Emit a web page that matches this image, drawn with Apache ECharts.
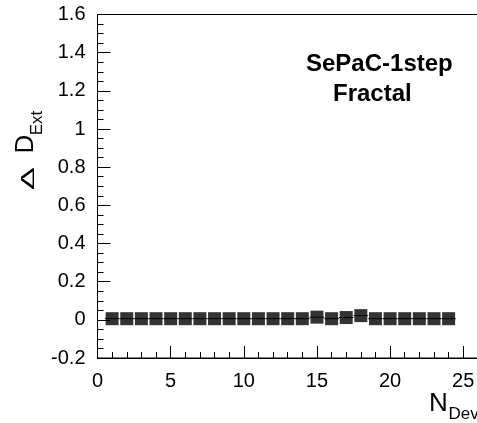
<!DOCTYPE html>
<html>
<head>
<meta charset="utf-8">
<script src="https://cdn.jsdelivr.net/npm/echarts@6/dist/echarts.min.js"></script>
<style>
  html, body { margin: 0; padding: 0; background: #fff; }
  #chart { width: 477px; height: 423px; }
</style>
</head>
<body>
<div id="chart"></div>
<script>
// Number of deviations on x, extended-dimension difference on y
const nDev = [1, 2, 3, 4, 5, 6, 7, 8, 9, 10, 11, 12, 13, 14, 15, 16, 17, 18, 19, 20, 21, 22, 23, 24];
const deltaD = [0.006, 0.006, 0.006, 0.006, 0.006, 0.006, 0.006, 0.006, 0.006, 0.006, 0.006, 0.006,
                0.006, 0.006, 0.014, 0.006, 0.012, 0.022, 0.006, 0.006, 0.006, 0.006, 0.006, 0.006];
const xHalfWidth = [0.5, 0.5, 0.5, 0.5, 0.5, 0.5, 0.5, 0.5, 0.5, 0.5, 0.5, 0.5,
                    0.5, 0.5, 0.5, 0.5, 0.5, 0.5, 0.5, 0.5, 0.5, 0.5, 0.5, 0.5];
const yTicks = [-0.2, 0, 0.2, 0.4, 0.6, 0.8, 1, 1.2, 1.4, 1.6];
const xTicks = [0, 5, 10, 15, 20, 25];

const FONT = '"Liberation Sans", Arial, Helvetica, sans-serif';

const points = nDev.map((x, i) => [x, deltaD[i]]);
const bars = nDev.map((x, i) => [x, deltaD[i], xHalfWidth[i]]);

const chart = echarts.init(document.getElementById('chart'), null, { renderer: 'canvas' });

chart.setOption({
  animation: false,
  backgroundColor: '#fff',
  grid: {
    left: 97.5, top: 14.5, width: 395, bottom: 65,
    outerBoundsMode: 'none', containLabel: false,
    show: true, borderColor: '#000', borderWidth: 1, backgroundColor: 'transparent'
  },
  xAxis: {
    type: 'value',
    min: 0, max: 27, interval: 5,
    axisLine: { show: true, onZero: false, lineStyle: { color: '#000', width: 1 } },
    axisTick: { show: true, inside: true, length: 12, lineStyle: { color: '#000' } },
    minorTick: { show: true, splitNumber: 5, length: 6, lineStyle: { color: '#000' } },
    splitLine: { show: false },
    axisLabel: {
      color: '#000', fontFamily: FONT, fontSize: 20, margin: 13,
      formatter: v => (xTicks.includes(v) ? String(v) : '')
    }
  },
  yAxis: {
    type: 'value',
    min: yTicks[0], max: yTicks[yTicks.length - 1], interval: 0.2,
    axisLine: { show: true, onZero: false, lineStyle: { color: '#000', width: 1 } },
    axisTick: { show: true, inside: true, length: 13, lineStyle: { color: '#000' } },
    minorTick: { show: true, splitNumber: 4, length: 6, lineStyle: { color: '#000' } },
    splitLine: { show: false },
    axisLabel: {
      color: '#000', fontFamily: FONT, fontSize: 20, margin: 12,
      formatter: v => {
        const t = yTicks.find(k => Math.abs(k - v) < 1e-9);
        return t === undefined ? '' : String(parseFloat(t.toFixed(1)));
      }
    }
  },
  series: [
    {
      // horizontal bin-width bars through each point
      type: 'custom',
      data: bars,
      renderItem: (params, api) => {
        const x = api.value(0), y = api.value(1), w = api.value(2);
        const a = api.coord([x - w, y]);
        const b = api.coord([x + w, y]);
        return {
          type: 'line',
          shape: { x1: a[0], y1: a[1], x2: b[0], y2: b[1] },
          style: { stroke: '#000', lineWidth: 1 }
        };
      },
      z: 2
    },
    {
      type: 'scatter',
      data: points,
      symbol: 'rect',
      symbolSize: 13,
      itemStyle: { color: '#000' },
      z: 3
    }
  ],
  graphic: [
    { type: 'text', left: 306, top: 52, style: { text: 'SePaC-1step', fill: '#000', font: 'bold 24px ' + FONT } },
    { type: 'text', left: 333, top: 82, style: { text: 'Fractal', fill: '#000', font: 'bold 24px ' + FONT } },
    // x-axis title
    { type: 'text', x: 429, y: 403.5, style: { text: 'N', fill: '#000', font: '26px ' + FONT, align: 'left', verticalAlign: 'middle' } },
    { type: 'text', x: 448.5, y: 414, style: { text: 'Dev', fill: '#000', font: '17px ' + FONT, align: 'left', verticalAlign: 'middle' } },
    // y-axis title, rotated to read upward
    { type: 'text', x: 28.5, y: 178.7, rotation: Math.PI / 2, scaleX: 1.8,
      style: { text: 'Δ', fill: '#000', font: '19px ' + FONT, align: 'center', verticalAlign: 'middle' } },
    { type: 'text', x: 25.5, y: 144, rotation: Math.PI / 2,
      style: { text: 'D', fill: '#000', font: '26px ' + FONT, align: 'center', verticalAlign: 'middle' } },
    { type: 'text', x: 37.5, y: 123, rotation: Math.PI / 2,
      style: { text: 'Ext', fill: '#000', font: '17px ' + FONT, align: 'center', verticalAlign: 'middle' } }
  ]
});
</script>
</body>
</html>
